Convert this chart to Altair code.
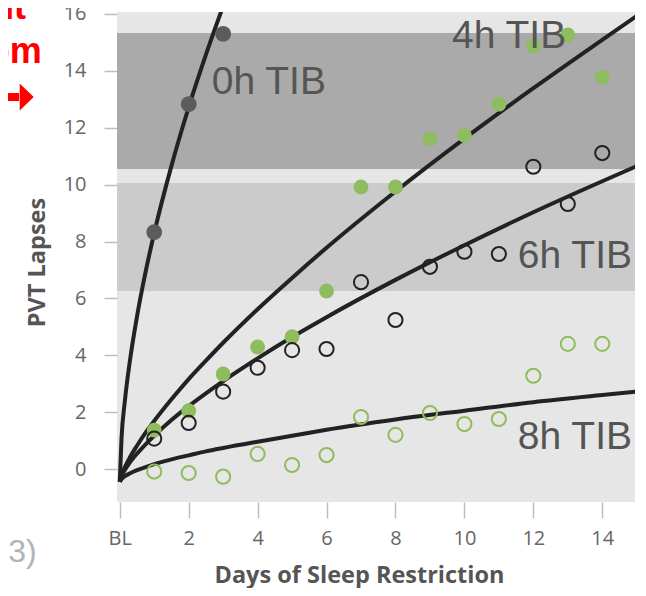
import altair as alt
import pandas as pd

# ---------------- data ----------------
x_tick_values = [0, 2, 4, 6, 8, 10, 12, 14]
x_tick_labels = ["BL", "2", "4", "6", "8", "10", "12", "14"]
y_tick_values = [0, 2, 4, 6, 8, 10, 12, 14, 16]

days = list(range(1, 15))
tib0_days = [1, 2, 3]
tib0_lapses = [8.33, 12.83, 15.30]
tib4_lapses = [1.37, 2.05, 3.34, 4.29, 4.65, 6.26, 9.92, 9.92, 11.60, 11.74, 12.83, 14.87, 15.26, 13.78]
tib6_lapses = [1.07, 1.62, 2.72, 3.56, 4.18, 4.22, 6.57, 5.24, 7.11, 7.64, 7.56, 10.63, 9.32, 11.11]
tib8_lapses = [-0.09, -0.14, -0.27, 0.53, 0.14, 0.49, 1.83, 1.20, 1.97, 1.58, 1.76, 3.28, 4.40, 4.40]

# fitted curves at these days
curve_days = [0, 0.05, 0.15, 0.3, 0.5, 0.75, 1, 1.5, 2, 2.5, 3, 4, 5, 6, 8, 10, 12, 14, 15]
curve0_days = [0, 0.05, 0.15, 0.3, 0.5, 0.75, 1, 1.5, 2, 2.5, 3]
curve0 = [-0.45, 1.05, 2.41, 3.85, 5.36, 6.93, 8.30, 10.66, 12.72, 14.57, 16.28]
curve4 = [-0.45, -0.22, 0.07, 0.42, 0.82, 1.28, 1.69, 2.45, 3.16, 3.81, 4.44, 5.62, 6.72, 7.78, 9.76, 11.62, 13.39, 15.09, 15.93]
curve6 = [-0.45, -0.26, -0.03, 0.24, 0.54, 0.87, 1.17, 1.72, 2.21, 2.66, 3.09, 3.89, 4.64, 5.34, 6.65, 7.87, 9.03, 10.12, 10.65]
curve8 = [-0.45, -0.35, -0.25, -0.15, -0.04, 0.07, 0.17, 0.34, 0.48, 0.62, 0.74, 0.96, 1.17, 1.38, 1.74, 2.05, 2.35, 2.60, 2.72]

band_low = [10.55, 6.26]
band_high = [15.33, 10.06]
band_fill = ["#aaaaaa", "#cbcbcb"]

label_text = ["0h TIB", "4h TIB", "6h TIB", "8h TIB"]
label_day = [2.67, 9.64, 11.55, 11.55]
label_lapses = [13.19, 14.80, 7.07, 0.70]

# cropped fragments of the slide at the left edge
red_text = ["nt", "om"]
red_day = [-2.72, -2.26]
red_lapses = [15.82, 14.28]
gray_text = ["03)"]
gray_day = [-2.41]
gray_lapses = [-3.26]
arrow_shaft_day = [-3.6, -2.92]
arrow_head_day = [-2.70]
arrow_lapses = [13.08]

GREEN = "#8fbc5f"

# ---------------- scales / axes ----------------
xscale = alt.Scale(domain=[-0.08, 14.95], nice=False, zero=False)
yscale = alt.Scale(domain=[-1.16, 16.07], nice=False, zero=False)

label_expr = "".join(
    f"datum.value == {v} ? '{t}' : " for v, t in zip(x_tick_values, x_tick_labels)
) + "datum.label"

x_axis = alt.Axis(
    values=x_tick_values, labelExpr=label_expr, title="Days of Sleep Restriction",
    domain=False, grid=False, tickSize=16, tickColor="#bdbdbd", tickWidth=1.5,
    labelPadding=10, labelFont="Open Sans", labelFontSize=20, labelColor="#666666",
    labelOverlap=False, labelFlush=False,
    titleFont="Open Sans", titleFontSize=23.5, titleFontWeight="bold", titleColor="#555555",
    titleX=242, titleY=80, titleBaseline="alphabetic",
)
y_axis = alt.Axis(
    values=y_tick_values, title="PVT Lapses",
    domain=False, grid=False, tickSize=13, tickColor="#bdbdbd", tickWidth=1.5,
    labelPadding=18, labelFont="Open Sans", labelFontSize=20, labelColor="#666666",
    labelOverlap=False, labelFlush=False,
    titleFont="Open Sans", titleFontSize=23.5, titleFontWeight="bold", titleColor="#555555",
    titleX=-73, titleY=250, titleBaseline="alphabetic",
)


def X(field):
    return alt.X(f"{field}:Q", scale=xscale, axis=x_axis)


def Y(field):
    return alt.Y(f"{field}:Q", scale=yscale, axis=y_axis)


# ---------------- layers ----------------
bands_df = pd.DataFrame({"lo": band_low, "hi": band_high, "fill": band_fill})
bands = alt.Chart(bands_df).mark_rect().encode(
    y=Y("lo"), y2="hi", color=alt.Color("fill:N", scale=None)
)

curves_df = pd.concat([
    pd.DataFrame({"day": curve0_days, "lapses": curve0, "s": "0h"}),
    pd.DataFrame({"day": curve_days, "lapses": curve4, "s": "4h"}),
    pd.DataFrame({"day": curve_days, "lapses": curve6, "s": "6h"}),
    pd.DataFrame({"day": curve_days, "lapses": curve8, "s": "8h"}),
])
curves = alt.Chart(curves_df).mark_line(
    color="#222222", strokeWidth=4, interpolate="monotone", clip=True
).encode(x=X("day"), y=Y("lapses"), detail="s:N")

p0 = alt.Chart(pd.DataFrame({"day": tib0_days, "lapses": tib0_lapses})).mark_point(
    filled=True, color="#5c5c5c", size=250, opacity=1
).encode(x=X("day"), y=Y("lapses"))
p4 = alt.Chart(pd.DataFrame({"day": days, "lapses": tib4_lapses})).mark_point(
    filled=True, color=GREEN, size=220, opacity=1
).encode(x=X("day"), y=Y("lapses"))
p6 = alt.Chart(pd.DataFrame({"day": days, "lapses": tib6_lapses})).mark_point(
    filled=False, color="#222222", size=200, strokeWidth=2, opacity=1
).encode(x=X("day"), y=Y("lapses"))
p8 = alt.Chart(pd.DataFrame({"day": days, "lapses": tib8_lapses})).mark_point(
    filled=False, color=GREEN, size=200, strokeWidth=2, opacity=1
).encode(x=X("day"), y=Y("lapses"))

labels = alt.Chart(pd.DataFrame({"day": label_day, "lapses": label_lapses, "t": label_text})).mark_text(
    align="left", baseline="alphabetic", font="Liberation Sans", fontSize=39, color="#555555"
).encode(x=X("day"), y=Y("lapses"), text="t:N")

red = alt.Chart(pd.DataFrame({"day": red_day, "lapses": red_lapses, "t": red_text})).mark_text(
    align="right", baseline="alphabetic", font="Liberation Sans", fontSize=36,
    fontWeight="bold", color="#ff0000"
).encode(x=X("day"), y=Y("lapses"), text="t:N")
gray = alt.Chart(pd.DataFrame({"day": gray_day, "lapses": gray_lapses, "t": gray_text})).mark_text(
    align="right", baseline="alphabetic", font="Liberation Sans", fontSize=32, color="#b3b3b3"
).encode(x=X("day"), y=Y("lapses"), text="t:N")
shaft = alt.Chart(pd.DataFrame({"a": [arrow_shaft_day[0]], "b": [arrow_shaft_day[1]],
                                "lapses": arrow_lapses})).mark_rule(
    color="#ff0000", strokeWidth=8
).encode(x=X("a"), x2="b", y=Y("lapses"))
head = alt.Chart(pd.DataFrame({"day": arrow_head_day, "lapses": arrow_lapses})).mark_point(
    shape="M-0.52,-1L0.52,0L-0.52,1Z", filled=True, color="#ff0000", size=729, opacity=1
).encode(x=X("day"), y=Y("lapses"))

chart = alt.layer(
    bands, curves, p0, p4, p6, p8, labels, red, gray, shaft, head
).properties(
    width=518, height=490, autosize="none",
    padding={"left": 109, "top": 4, "right": 3, "bottom": 86},
).configure_view(fill="#e6e6e6", strokeWidth=0)

chart.save("out.html", embed_options={"renderer": "svg", "actions": False})
